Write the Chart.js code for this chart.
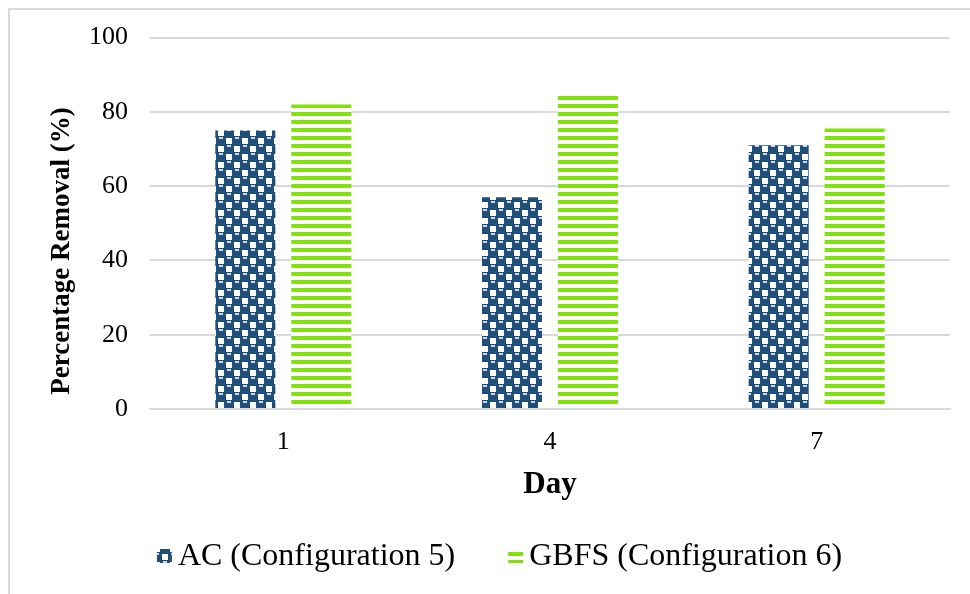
<!DOCTYPE html>
<html>
<head>
<meta charset="utf-8">
<title>Percentage Removal by Day</title>
<script src="https://cdn.jsdelivr.net/npm/chart.js@4"></script>
<style>
  body { margin: 0; background: #fff; }
  #wrap { width: 970px; height: 594px; position: relative; }
</style>
</head>
<body>
<div id="wrap">
  <canvas id="removalChart" width="970" height="594"></canvas>
</div>
<script>
const days = ["1", "4", "7"];
const acValues = [75, 57, 71];
const gbfsValues = [82, 84.5, 75.5];
const seriesNames = ["AC (Configuration 5)", "GBFS (Configuration 6)"];
const yTicks = [0, 20, 40, 60, 80, 100];
const yTitle = "Percentage Removal (%)";

const serif = "'Liberation Serif', 'Times New Roman', serif";

// checker fill for the AC bars
function makeChecker() {
  const c = document.createElement("canvas");
  c.width = 16;
  c.height = 16;
  const g = c.getContext("2d");
  g.fillStyle = "#ffffff";
  g.fillRect(0, 0, 16, 16);
  g.fillStyle = "#1f4e79";
  g.fillRect(0, 0, 10, 10);
  g.fillRect(8, 8, 10, 10);
  g.fillRect(-8, 8, 10, 10);
  g.fillRect(8, -8, 10, 10);
  g.fillStyle = "#c9d6e6";
  g.fillRect(3, 1, 4, 2);
  g.fillRect(11, 9, 4, 2);
  return g.createPattern(c, "repeat");
}

// horizontal stripes for the GBFS bars
function makeStripes() {
  const c = document.createElement("canvas");
  c.width = 8;
  c.height = 8;
  const g = c.getContext("2d");
  g.fillStyle = "#ffffff";
  g.fillRect(0, 0, 8, 8);
  g.fillStyle = "#82e00e";
  g.fillRect(0, 0, 8, 4);
  return g.createPattern(c, "repeat");
}

const ctx = document.getElementById("removalChart").getContext("2d");
const acFill = makeChecker();
const gbfsFill = makeStripes();

// light frame round the chart
const framePlugin = {
  id: "frame",
  beforeDraw(chart) {
    const c = chart.ctx;
    c.save();
    c.strokeStyle = "#d9d9d9";
    c.lineWidth = 2;
    c.strokeRect(9, 9, 1000, 1000);
    c.restore();
  }
};

// vertical axis title, sitting a little below the plot's middle
const yTitlePlugin = {
  id: "yTitle",
  afterDraw(chart) {
    const c = chart.ctx;
    c.save();
    c.translate(62, 251);
    c.rotate(-Math.PI / 2);
    c.font = "bold 27px " + serif;
    c.fillStyle = "#000";
    c.textAlign = "center";
    c.textBaseline = "middle";
    c.fillText(yTitle, 0, 0);
    c.restore();
  }
};

// bottom legend with tight swatch-to-text spacing
const legendPlugin = {
  id: "bottomLegend",
  afterDraw(chart) {
    const c = chart.ctx;
    const box = 15;
    const gapText = 6;
    const gapItem = 53;
    c.save();
    c.font = "32px " + serif;
    c.textBaseline = "middle";
    const items = chart.data.datasets.map(ds => ({
      label: ds.label,
      fill: ds.backgroundColor,
      w: box + gapText + c.measureText(ds.label).width
    }));
    const total = items.reduce((s, it) => s + it.w, 0) + gapItem * (items.length - 1);
    let x = 499.5 - total / 2;
    const y = 556;
    items.forEach(it => {
      c.fillStyle = it.fill;
      c.fillRect(x, y - 7, box, 14);
      c.fillStyle = "#000";
      c.fillText(it.label, x + box + gapText, y + 1);
      x += it.w + gapItem;
    });
    c.restore();
  }
};

new Chart(ctx, {
  type: "bar",
  data: {
    labels: days,
    datasets: [
      {
        label: seriesNames[0],
        data: acValues,
        backgroundColor: acFill,
        borderWidth: 0
      },
      {
        label: seriesNames[1],
        data: gbfsValues,
        backgroundColor: gbfsFill,
        borderWidth: 0
      }
    ]
  },
  options: {
    responsive: false,
    animation: false,
    categoryPercentage: 0.57,
    barPercentage: 0.79,
    layout: {
      padding: { left: 0, right: 20, top: 37, bottom: 85 }
    },
    plugins: {
      legend: { display: false },
      tooltip: { enabled: false }
    },
    scales: {
      x: {
        grid: { display: false },
        border: { display: true, color: "#d9d9d9", width: 2 },
        ticks: {
          color: "#000",
          font: { family: serif, size: 26 },
          padding: 10
        },
        title: {
          display: true,
          text: "Day",
          color: "#000",
          font: { family: serif, size: 31, weight: "bold" },
          padding: { top: 0, bottom: 5 }
        },
        afterFit(scale) { scale.height = 100; }
      },
      y: {
        min: 0,
        max: 100,
        afterBuildTicks(scale) {
          scale.ticks = yTicks.map(v => ({ value: v }));
        },
        grid: { color: "#d9d9d9", lineWidth: 2, drawTicks: false },
        border: { display: false },
        ticks: {
          color: "#000",
          font: { family: serif, size: 26 },
          padding: 22
        },
        title: { display: false },
        afterFit(scale) { scale.width = 150; }
      }
    }
  },
  plugins: [framePlugin, yTitlePlugin, legendPlugin]
});
</script>
</body>
</html>
